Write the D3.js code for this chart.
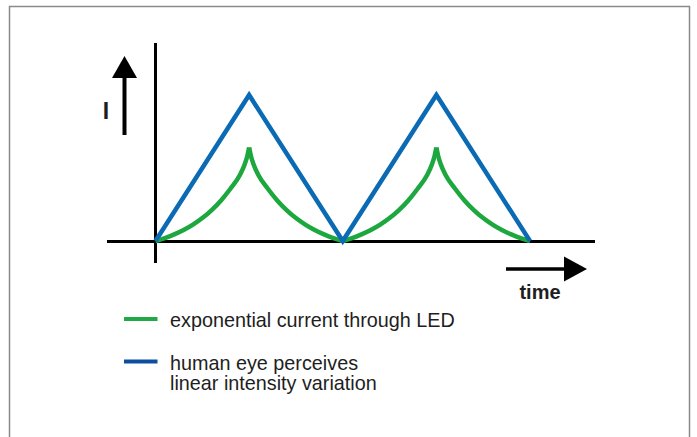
<!DOCTYPE html>
<html>
<head>
<meta charset="utf-8">
<script src="https://cdn.jsdelivr.net/npm/d3@7"></script>
<style>
  html, body { margin: 0; padding: 0; background: #fff; }
  svg { display: block; }
  text { font-family: "Liberation Sans", Arial, sans-serif; fill: #1e1e1e; }
</style>
</head>
<body>
<svg id="chart" width="697" height="437"></svg>
<script>
// ---- data ----
const bluePeriods = [0, 1, 2, 3, 4];
const blueValues  = [0, 1, 0, 1, 0];

// exponential current (green), per half-cycle
const greenRiseT = [0, 0.1, 0.2, 0.3, 0.4, 0.5, 0.6, 0.7, 0.8, 0.9, 0.95, 0.98, 1.0];
const greenRiseV = [0, 0.02, 0.045, 0.075, 0.112, 0.157, 0.212, 0.278, 0.358, 0.45, 0.52, 0.58, 0.64];
const greenFallT = [1.0, 1.02, 1.05, 1.1, 1.2, 1.3, 1.4, 1.5, 1.6, 1.7, 1.8, 1.9, 2.0];
const greenFallV = [0.64, 0.58, 0.52, 0.45, 0.358, 0.278, 0.212, 0.157, 0.112, 0.075, 0.045, 0.02, 0];
const cycleStarts = [0, 2];

const yLabel = "I";
const xLabel = "time";
const legendLabels = [["exponential current through LED"], ["human eye perceives", "linear intensity variation"]];
const colors = { blue: "#0a6bb4", green: "#1da73f", legendBlue: "#0d4f9e", legendGreen: "#22a947" };

// ---- drawing ----
const svg = d3.select("#chart");

// frame
svg.append("rect").attr("x", 9.5).attr("y", 6.5).attr("width", 680).attr("height", 460)
  .attr("fill", "none").attr("stroke", "#8a8a8a").attr("stroke-width", 1.5);

const x = d3.scaleLinear().domain([0, 4]).range([155.5, 530]);
const y = d3.scaleLinear().domain([0, 1]).range([241, 95]);

// axes
svg.append("line").attr("x1", x(0)).attr("x2", x(0)).attr("y1", 43).attr("y2", 263)
  .attr("stroke", "#000").attr("stroke-width", 3);
svg.append("line").attr("x1", 107).attr("x2", 595).attr("y1", y(0) + 0.5).attr("y2", y(0) + 0.5)
  .attr("stroke", "#000").attr("stroke-width", 3);

// green curve (each half drawn separately so the cusps stay sharp)
const gLine = d3.line().x(d => x(d[0])).y(d => y(d[1])).curve(d3.curveMonotoneX);
cycleStarts.forEach(c => {
  const rise = greenRiseT.map((t, i) => [c + t, greenRiseV[i]]);
  const fall = greenFallT.map((t, i) => [c + t, greenFallV[i]]);
  [rise, fall].forEach(seg => {
    svg.append("path").attr("d", gLine(seg)).attr("fill", "none")
      .attr("stroke", colors.green).attr("stroke-width", 4.5).attr("stroke-linecap", "butt");
  });
});

// blue line
const bLine = d3.line().x(d => x(d[0])).y(d => y(d[1]));
svg.append("path").attr("d", bLine(bluePeriods.map((t, i) => [t, blueValues[i]])))
  .attr("fill", "none").attr("stroke", colors.blue).attr("stroke-width", 4.5)
  .attr("stroke-linejoin", "miter").attr("stroke-miterlimit", 10);

// up arrow (I)
svg.append("line").attr("x1", 124.5).attr("x2", 124.5).attr("y1", 135).attr("y2", 76)
  .attr("stroke", "#000").attr("stroke-width", 4);
svg.append("path").attr("d", "M124.5,56 L137,78 L112,78 Z").attr("fill", "#000");
svg.append("text").attr("x", 106).attr("y", 119).attr("text-anchor", "middle")
  .attr("font-size", 23).attr("font-weight", "bold").text(yLabel);

// right arrow (time)
svg.append("line").attr("x1", 506).attr("x2", 566).attr("y1", 269).attr("y2", 269)
  .attr("stroke", "#000").attr("stroke-width", 3.5);
svg.append("path").attr("d", "M587,269 L564,256.5 L564,281.5 Z").attr("fill", "#000");
svg.append("text").attr("x", 540).attr("y", 299).attr("text-anchor", "middle")
  .attr("font-size", 20).attr("font-weight", "bold").text(xLabel);

// legend
const legendY = [319, 361.5];
const legendCols = [colors.legendGreen, colors.legendBlue];
legendLabels.forEach((lines, i) => {
  svg.append("line").attr("x1", 124).attr("x2", 157.5).attr("y1", legendY[i]).attr("y2", legendY[i])
    .attr("stroke", legendCols[i]).attr("stroke-width", 4);
  const t = svg.append("text").attr("x", 170).attr("y", legendY[i] + 8).attr("font-size", 19.8);
  lines.forEach((ln, j) => {
    t.append("tspan").attr("x", 170).attr("dy", j === 0 ? 0 : 20.5).text(ln);
  });
});
</script>
</body>
</html>
